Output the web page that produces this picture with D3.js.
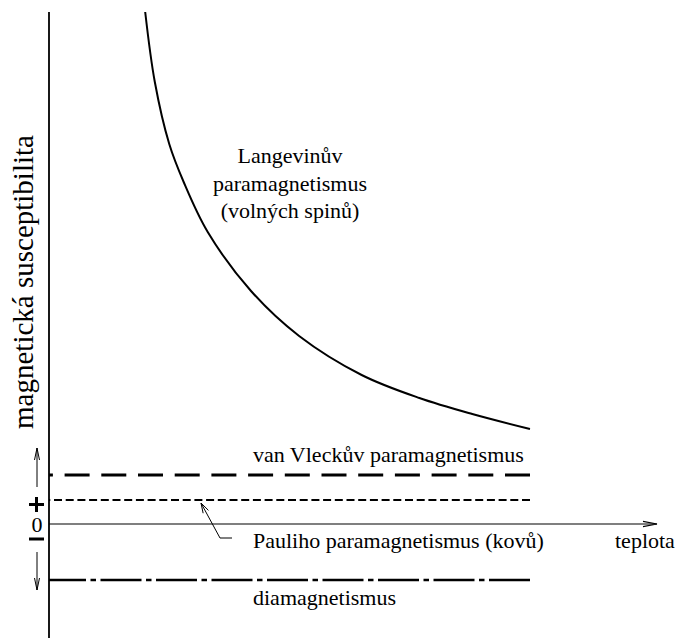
<!DOCTYPE html>
<html>
<head>
<meta charset="utf-8">
<script src="https://cdn.jsdelivr.net/npm/d3@7"></script>
</head>
<body style="margin:0">
<svg id="chart" width="676" height="638" font-family="Liberation Serif, Times New Roman, serif"></svg>
<script>
// Temperature (arbitrary units) and susceptibility of free spins (Curie law)
const curieT   = [20, 22, 25, 28, 33, 42, 52, 65, 77, 88, 100];
const curieChi = [51.2, 44.2, 38.0, 34.2, 29.2, 23.3, 18.8, 14.9, 12.6, 11.0, 9.5];

// Temperature-independent contributions
const levels = ["vanVleck", "pauli", "dia"];
const levelChi = [4.9, 2.4, -5.6];
const levelRange = [0, 100];

// Texts
const yTitle = "magnetická susceptibilita";
const xTitle = "teplota";
const langevinLines = ["Langevinův", "paramagnetismus", "(volných spinů)"];
const levelLabels = ["van Vleckův paramagnetismus", "Pauliho paramagnetismus (kovů)", "diamagnetismus"];

const FONT = '"Liberation Serif", "Times New Roman", serif';

const svg = d3.select("#chart");
const x = d3.scaleLinear().domain([0, 100]).range([49, 530]);
const y = d3.scaleLinear().domain([0, 50]).range([524, 24]);

function label(sel, size) {
  return sel.append("text")
    .attr("font-family", "Liberation Serif, Times New Roman, serif")
    .attr("font-size", size)
    .style("font-family", FONT, "important");
}

// y axis (vertical line over the whole height)
svg.append("line")
  .attr("x1", x(0)).attr("x2", x(0))
  .attr("y1", y(51.2)).attr("y2", 638)
  .attr("stroke", "#000").attr("stroke-width", 1.8);

// temperature axis at zero susceptibility, with arrow
const xEnd = x(126.4);
svg.append("line")
  .attr("x1", x(0)).attr("x2", xEnd)
  .attr("y1", y(0)).attr("y2", y(0))
  .attr("stroke", "#000").attr("stroke-width", 1.1);
svg.append("path")
  .attr("d", `M${xEnd - 14},${y(0) - 2.6}L${xEnd},${y(0)}L${xEnd - 14},${y(0) + 2.6}`)
  .attr("fill", "none").attr("stroke", "#000").attr("stroke-width", 1.1);

// Curie curve
const curve = d3.line().x(d => x(d[0])).y(d => y(d[1])).curve(d3.curveCatmullRom.alpha(0.5));
svg.append("path")
  .datum(d3.zip(curieT, curieChi))
  .attr("d", curve)
  .attr("fill", "none").attr("stroke", "#000").attr("stroke-width", 2);

// Constant levels (drawn right-to-left so the dash pattern ends cleanly at the right)
const levelStyles = {
  vanVleck: { dash: "25,11.7", width: 3.2 },
  pauli:    { dash: "8,3.7", width: 2.2 },
  dia:      { dash: "41,4.5,5.5,4.5", width: 2.6 }
};
const flat = d3.line().x(d => x(d[0])).y(d => y(d[1]));
levels.forEach((k, i) => {
  svg.append("path")
    .attr("d", flat([[levelRange[1], levelChi[i]], [levelRange[0], levelChi[i]]]))
    .attr("fill", "none").attr("stroke", "#000")
    .attr("stroke-width", levelStyles[k].width)
    .attr("stroke-dasharray", levelStyles[k].dash);
});

// Labels
label(svg, 29)
  .attr("transform", `translate(33,${282}) rotate(-90)`)
  .attr("text-anchor", "middle")
  .text(yTitle);

label(svg, 22).attr("x", 615).attr("y", 548).text(xTitle);

langevinLines.forEach((t, i) => {
  label(svg, 22).attr("text-anchor", "middle").attr("x", 290).attr("y", 163 + i * 27.5).text(t);
});

label(svg, 22).attr("x", 253).attr("y", 462).text(levelLabels[0]);
label(svg, 22).attr("x", 253).attr("y", 548).text(levelLabels[1]);
label(svg, 22).attr("x", 253).attr("y", 605).text(levelLabels[2]);

// Leader from the Pauli label to its line
const tipX = 201, tipY = y(levelChi[1]) + 3;
svg.append("path")
  .attr("d", `M232,538H220L${tipX},${tipY}`)
  .attr("fill", "none").attr("stroke", "#000").attr("stroke-width", 1);
(function arrowHead(tx, ty, fx, fy, len, half) {
  const a = Math.atan2(ty - fy, tx - fx);
  const bx = tx - len * Math.cos(a), by = ty - len * Math.sin(a);
  const px = -Math.sin(a) * half, py = Math.cos(a) * half;
  svg.append("path")
    .attr("d", `M${bx + px},${by + py}L${tx},${ty}L${bx - px},${by - py}`)
    .attr("fill", "none").attr("stroke", "#000").attr("stroke-width", 1);
})(tipX, tipY, 220, 538, 10, 3);

// Sign markers next to zero
label(svg, 22).attr("x", 37).attr("y", 532).attr("text-anchor", "middle").text("0");
svg.append("path").attr("d", "M29,504.5H44M36.5,497V512")
  .attr("stroke", "#000").attr("stroke-width", 3).attr("fill", "none");
svg.append("path").attr("d", "M29,539H44")
  .attr("stroke", "#000").attr("stroke-width", 3).attr("fill", "none");

// Direction arrows (positive up, negative down)
function vArrow(x0, yFrom, yTo) {
  const dir = Math.sign(yTo - yFrom);
  svg.append("line").attr("x1", x0).attr("x2", x0).attr("y1", yFrom).attr("y2", yTo)
    .attr("stroke", "#000").attr("stroke-width", 1);
  svg.append("path")
    .attr("d", `M${x0 - 2.5},${yTo - dir * 12}L${x0},${yTo}L${x0 + 2.5},${yTo - dir * 12}`)
    .attr("fill", "none").attr("stroke", "#000").attr("stroke-width", 1);
}
vArrow(37, 487, 448);
vArrow(37, 552, 590);
</script>
</body>
</html>
